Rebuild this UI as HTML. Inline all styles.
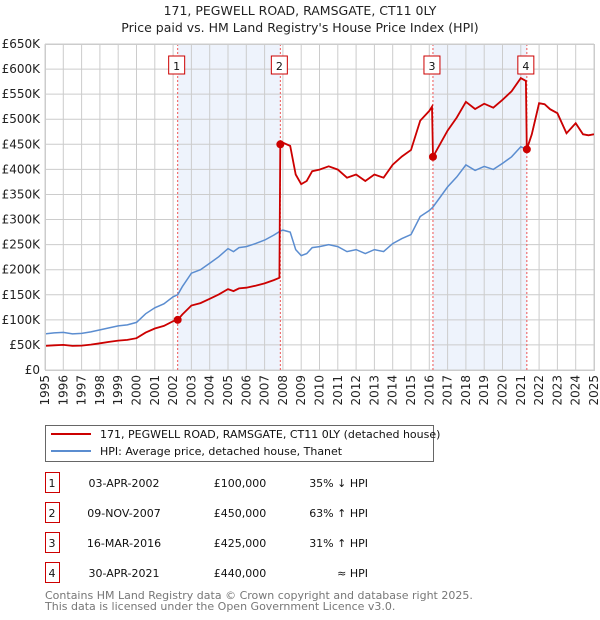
<!DOCTYPE html>
<html><head><meta charset="utf-8">
<style>
body{margin:0;background:#fff;font-family:"DejaVu Sans","Liberation Sans",sans-serif;}
#wrap{position:relative;width:600px;height:620px;overflow:hidden;}
svg text{font-family:"DejaVu Sans","Liberation Sans",sans-serif;}
</style></head>
<body><div id="wrap">
<svg id="svg" width="600" height="620">
<text x="300" y="15" text-anchor="middle" font-size="12.5" fill="#222">171, PEGWELL ROAD, RAMSGATE, CT11 0LY</text>
<text x="300" y="32" text-anchor="middle" font-size="12.5" fill="#222">Price paid vs. HM Land Registry's House Price Index (HPI)</text>
<g id="plot"></g>
<g>
<rect x="45.5" y="425.5" width="388" height="36" fill="#fff" stroke="#666"/>
<line x1="51" y1="434" x2="91" y2="434" stroke="#cc0000" stroke-width="2"/>
<text x="100" y="438" font-size="11" fill="#111">171, PEGWELL ROAD, RAMSGATE, CT11 0LY (detached house)</text>
<line x1="51" y1="451" x2="91" y2="451" stroke="#5b8dd0" stroke-width="2"/>
<text x="100" y="455" font-size="11" fill="#111">HPI: Average price, detached house, Thanet</text>
</g>
<g id="table" font-size="11" fill="#111"></g>
<text x="45" y="599" font-size="11" fill="#777">Contains HM Land Registry data © Crown copyright and database right 2025.</text>
<text x="45" y="610" font-size="11" fill="#777">This data is licensed under the Open Government Licence v3.0.</text>
</svg></div>
<script>
const hpiYears=[1995,1995.5,1996,1996.5,1997,1997.5,1998,1998.5,1999,1999.5,2000,2000.5,2001,2001.5,2002,2002.25,2002.5,2003,2003.5,2004,2004.5,2005,2005.3,2005.6,2006,2006.5,2007,2007.5,2007.86,2008,2008.4,2008.7,2009,2009.3,2009.6,2010,2010.5,2011,2011.5,2012,2012.5,2013,2013.5,2014,2014.5,2015,2015.5,2016,2016.2,2016.6,2017,2017.5,2018,2018.5,2019,2019.5,2020,2020.5,2021,2021.33,2021.6,2022,2022.3,2022.6,2023,2023.5,2024,2024.4,2024.7,2025];
const hpiValues=[72,74,75,72,73,76,80,84,88,90,95,112,124,132,146,150,166,193,200,213,226,242,236,244,246,252,259,269,277,279,275,240,228,232,244,246,250,246,236,240,232,240,236,252,262,270,306,318,325,345,365,385,409,398,406,400,412,425,445,440,470,532,530,520,512,472,492,470,468,470];
const saleYears=[2002.25,2007.86,2016.2,2021.33];
const salePrices=[100,450,425,440];
const saleLabels=["1","2","3","4"];
const saleDates=["03-APR-2002","09-NOV-2007","16-MAR-2016","30-APR-2021"];
const salePriceText=["£100,000","£450,000","£425,000","£440,000"];
const saleHpiText=["35% ↓ HPI","63% ↑ HPI","31% ↑ HPI","≈ HPI"];
const yTicks=[0,50,100,150,200,250,300,350,400,450,500,550,600,650];
const xTicks=[1995,1996,1997,1998,1999,2000,2001,2002,2003,2004,2005,2006,2007,2008,2009,2010,2011,2012,2013,2014,2015,2016,2017,2018,2019,2020,2021,2022,2023,2024,2025];

const NS="http://www.w3.org/2000/svg";
const X0=45,X1=594,Y0=370,Y1=44;
const xs=y=>X0+(y-1995)/30*(X1-X0);
const ys=v=>Y0-v/650*(Y0-Y1);
const plot=document.getElementById('plot');
function mk(t,a,p){const e=document.createElementNS(NS,t);for(const k in a)e.setAttribute(k,a[k]);(p||plot).appendChild(e);return e;}
function hpiAt(t){for(let i=0;i<hpiYears.length-1;i++){if(t<=hpiYears[i+1]){const f=(t-hpiYears[i])/(hpiYears[i+1]-hpiYears[i]);return hpiValues[i]+f*(hpiValues[i+1]-hpiValues[i]);}}return hpiValues[hpiValues.length-1];}

for(let k=0;k<4;k+=2){
const r=mk('rect',{x:xs(saleYears[k]),y:Y1,width:xs(saleYears[k+1])-xs(saleYears[k]),height:Y0-Y1,fill:'#eef3fc'});


}
yTicks.forEach(v=>{
const l=mk('line',{x1:X0,x2:X1,y1:ys(v),y2:ys(v),stroke:'#cccccc','stroke-width':1});


const t=mk('text',{x:40,y:ys(v)+4,'text-anchor':'end','font-size':12,fill:'#222'});
t.textContent=v===0?'£0':'£'+v+'K';


});
xTicks.forEach(y=>{
const l=mk('line',{x1:xs(y),x2:xs(y),y1:Y1,y2:Y0,stroke:'#cccccc','stroke-width':1});


const t=mk('text',{transform:`translate(${xs(y)+4},${Y0+5}) rotate(-90)`,'text-anchor':'end','font-size':12,fill:'#222'});
t.textContent=y;


});
saleYears.forEach((s,i)=>{
const l=mk('line',{x1:xs(s),x2:xs(s),y1:Y1,y2:Y0,stroke:'#ee5555','stroke-width':1,'stroke-dasharray':'2,2'});


const b=mk('rect',{x:xs(s)-9,y:56,width:16,height:18,fill:'#fff',stroke:'#cc0000'});


const t=mk('text',{x:xs(s)-1,y:70,'text-anchor':'middle','font-size':11,fill:'#111'});
t.textContent=saleLabels[i];


});
let d='';
hpiYears.forEach((y,i)=>{d+=(i?'L':'M')+xs(y).toFixed(1)+','+ys(hpiValues[i]).toFixed(1);});
const hp=mk('path',{d:d,fill:'none',stroke:'#5b8dd0','stroke-width':1.5});


const pts=[];
const times=hpiYears.concat(saleYears).sort((a,b)=>a-b);
times.forEach(t=>{
let k=0;for(let i=0;i<saleYears.length;i++)if(t>=saleYears[i])k=i;
const ratio=salePrices[k]/hpiAt(saleYears[k]);
pts.push([t,hpiAt(t)*ratio]);
if(saleYears.indexOf(t)>0){const j=saleYears.indexOf(t);const pr=salePrices[j-1]/hpiAt(saleYears[j-1]);pts.splice(pts.length-1,0,[t-0.05,hpiAt(t-0.05)*pr]);}
});
let d2='';
pts.forEach((p,i)=>{d2+=(i?'L':'M')+xs(p[0]).toFixed(1)+','+ys(p[1]).toFixed(1);});
const pp=mk('path',{d:d2,fill:'none',stroke:'#cc0000','stroke-width':1.8});


saleYears.forEach((s,i)=>{
const c=mk('circle',{cx:xs(s),cy:ys(salePrices[i]),r:4,fill:'#cc0000'});


});
mk('rect',{x:X0+0.5,y:Y1+0.5,width:X1-X0,height:Y0-Y1,fill:'none',stroke:'#cccccc'});
const tb=document.getElementById('table');
saleLabels.forEach((lab,i)=>{
const cy=483+i*30;
const r=mk('rect',{x:45.5,y:cy-10.5,width:14,height:20,fill:'#fff',stroke:'#cc0000'},tb);


const vals=[[52,lab,'middle'],[124,saleDates[i],'middle'],[240,salePriceText[i],'middle'],[368,saleHpiText[i],'end']];
const names=['table-number','table-date','table-price','table-hpi-diff'];
vals.forEach((v,j)=>{
const t=mk('text',{x:v[0],y:cy+4,'text-anchor':v[2],'font-size':11,fill:'#111'},tb);
t.textContent=v[1];


});
});
</script>
</body></html>
